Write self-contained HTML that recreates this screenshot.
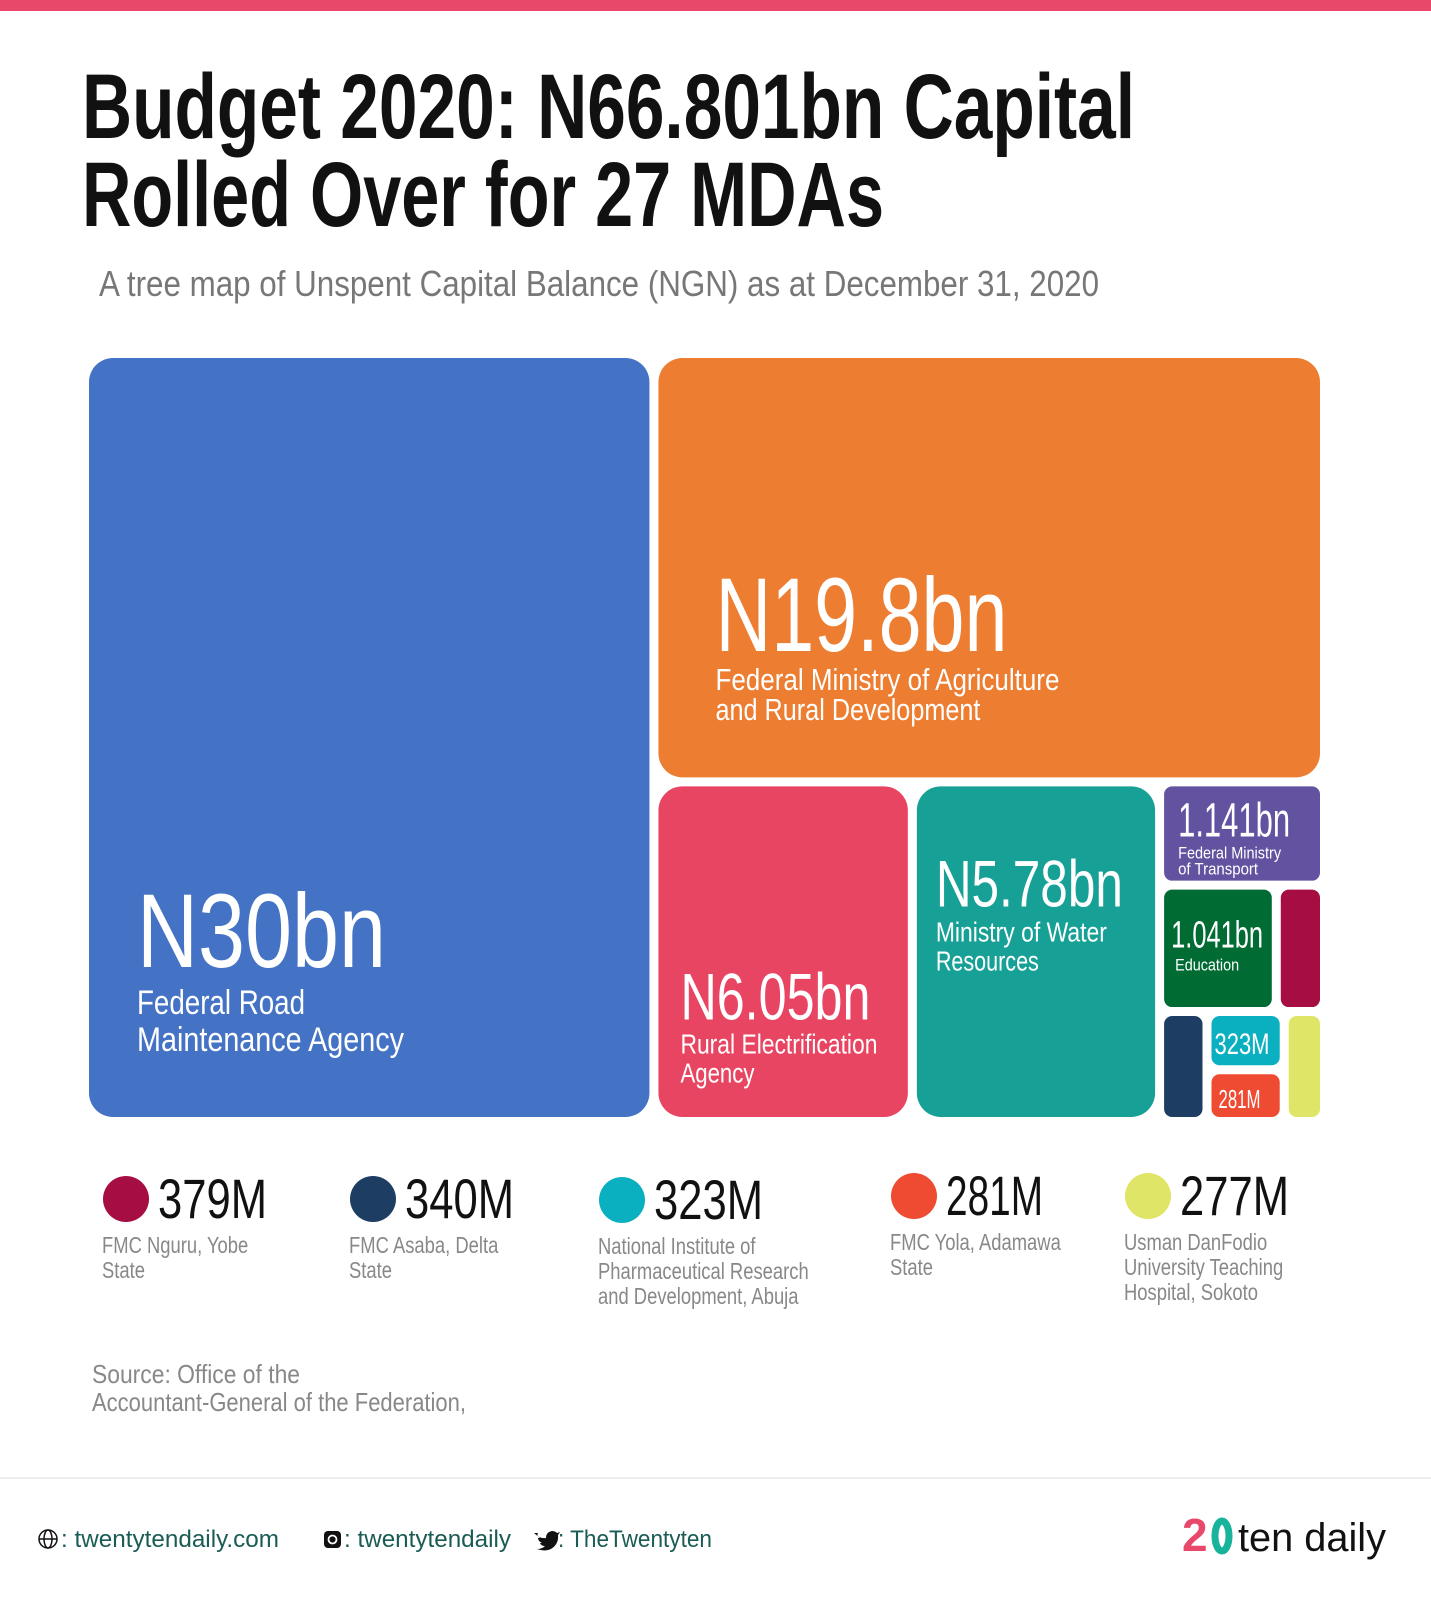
<!DOCTYPE html>
<html><head><meta charset="utf-8"><style>
html,body{margin:0;padding:0;background:#fff;}
svg{display:block;}
text{font-family:"Liberation Sans Narrow","Liberation Sans",sans-serif;}
</style></head><body>
<svg id="chart" width="1431" height="1600" viewBox="0 0 1431 1600" xmlns="http://www.w3.org/2000/svg">
<rect x="0" y="0" width="1431" height="11" fill="#e8486a"/>
<g fill="#111" font-weight="bold">
<text x="82" y="138" font-size="92" textLength="1053" lengthAdjust="spacingAndGlyphs">Budget 2020: N66.801bn Capital</text>
<text x="82" y="226" font-size="92" textLength="802" lengthAdjust="spacingAndGlyphs">Rolled Over for 27 MDAs</text>
</g>
<text x="99" y="296" font-size="36" fill="#777" textLength="1000" lengthAdjust="spacingAndGlyphs">A tree map of Unspent Capital Balance (NGN) as at December 31, 2020</text>
<g id="tm"></g>
<g id="legend"></g>
<g fill="#888" font-size="26">
<text x="92" y="1383" textLength="208" lengthAdjust="spacingAndGlyphs">Source:  Office of the</text>
<text x="92" y="1411" textLength="374" lengthAdjust="spacingAndGlyphs">Accountant-General of the Federation,</text>
</g>
<rect x="0" y="1477" width="1431" height="2" fill="#eee"/>
<g font-size="24" fill="#1a5c55">
<g stroke="#111" stroke-width="1.5" fill="none"><circle cx="48" cy="1539" r="9"/><ellipse cx="48" cy="1539" rx="4" ry="9"/><line x1="39" y1="1539" x2="57" y2="1539"/></g>
<text x="61" y="1547" textLength="218" lengthAdjust="spacingAndGlyphs">: twentytendaily.com</text>
<g><rect x="324" y="1531" width="17" height="17" rx="4" fill="#111"/><circle cx="332.5" cy="1539.5" r="4" fill="none" stroke="#fff" stroke-width="1.8"/></g>
<text x="344" y="1547" textLength="167" lengthAdjust="spacingAndGlyphs">: twentytendaily</text>
<path d="M534 1533 q6 6 12 5 q0 -6 6 -7 q3 0 5 2 l3 -1 l-2 3 q1 9 -7 14 q-6 3 -14 0 q5 0 8 -3 q-4 0 -5 -3 h2 q-4 -2 -4 -5 h2 q-4 -3 -2 -5 z" fill="#111"/>
<text x="558" y="1547" textLength="154" lengthAdjust="spacingAndGlyphs">: TheTwentyten</text>
<g>
<text x="1182" y="1551" font-size="46" font-weight="bold" fill="#e8486a" font-family="Liberation Sans, sans-serif">2</text>
<ellipse cx="1222" cy="1536" rx="7" ry="15" fill="none" stroke="#17b39a" stroke-width="7"/>
<text x="1238" y="1551" font-size="40" fill="#111" font-family="Liberation Serif, serif" textLength="148" lengthAdjust="spacingAndGlyphs">ten daily</text>
</g>
</g>
</svg>
<script>
const names = ["Federal Road Maintenance Agency","Federal Ministry of Agriculture and Rural Development","Rural Electrification Agency","Ministry of Water Resources","Federal Ministry of Transport","Education","FMC Nguru, Yobe State","FMC Asaba, Delta State","National Institute of Pharmaceutical Research and Development, Abuja","FMC Yola, Adamawa State","Usman DanFodio University Teaching Hospital, Sokoto"];
const values = [30, 19.8, 6.05, 5.78, 1.141, 1.041, 0.379, 0.340, 0.323, 0.281, 0.277];
const valueLabels = ["N30bn","N19.8bn","N6.05bn","N5.78bn","1.141bn","1.041bn","379M","340M","323M","281M","277M"];
const colors = ["#4472c4","#ed7d31","#e84562","#17a096","#6352a0","#006b33","#a50d43","#1d3e62","#0aafc0","#ef4b33","#dfe566"];
const tree = {dir:'h',kids:[0,{dir:'v',kids:[1,{dir:'h',kids:[2,3,{dir:'v',kids:[4,{dir:'h',kids:[5,6]},{dir:'h',kids:[7,{dir:'v',kids:[8,9]},10]}]}]}]}]};
const NS="http://www.w3.org/2000/svg";
const area={x:89,y:358,w:1231,h:759}, GAP=9;
const NARROW=0.8;
function sum(n){return typeof n==='number'?values[n]:n.kids.reduce((a,k)=>a+sum(k),0);}
const rects={};
function layout(n,r){
  if(typeof n==='number'){rects[n]=r;return;}
  const tot=sum(n), len=(n.dir==='h'?r.w:r.h)-GAP*(n.kids.length-1);
  let pos=n.dir==='h'?r.x:r.y;
  n.kids.forEach(k=>{
    const s=len*sum(k)/tot;
    layout(k,n.dir==='h'?{x:pos,y:r.y,w:s,h:r.h}:{x:r.x,y:pos,w:r.w,h:s});
    pos+=s+GAP;
  });
}
layout(tree,area);
const tm=document.getElementById('tm');
function txt(parent,x,y,size,str,len){
  const t=document.createElementNS(NS,'text');
  t.setAttribute('x',x);t.setAttribute('y',y);t.setAttribute('font-size',size);t.setAttribute('fill','#fff');
  t.textContent=str;parent.appendChild(t);
  const L=len||t.getComputedTextLength()*NARROW;
  t.setAttribute('textLength',L);t.setAttribute('lengthAdjust','spacingAndGlyphs');
  return t;
}
values.forEach((v,i)=>{
  const r=rects[i];
  const g=document.createElementNS(NS,'g');
  
  
  const rc=document.createElementNS(NS,'rect');
  
  
  rc.setAttribute('x',r.x);rc.setAttribute('y',r.y);rc.setAttribute('width',Math.max(r.w,1));rc.setAttribute('height',Math.max(r.h,1));
  rc.setAttribute('rx',i<4?24:8);rc.setAttribute('fill',colors[i]);
  g.appendChild(rc);tm.appendChild(g);
  const x=r.x,y=r.y;
  if(i===0){txt(g,x+48,y+609,105,valueLabels[0],249);txt(g,x+48,y+656,34,"Federal Road",168);txt(g,x+48,y+693,34,"Maintenance Agency",267);}
  if(i===1){txt(g,x+57,y+293,105,valueLabels[1],292);txt(g,x+57,y+332,31,"Federal Ministry of Agriculture",344);txt(g,x+57,y+362,31,"and Rural Development",265);}
  if(i===2){txt(g,x+22,y+233,66,valueLabels[2],190);txt(g,x+22,y+267,28,"Rural Electrification",197);txt(g,x+22,y+296,28,"Agency",74);}
  if(i===3){txt(g,x+19,y+120,66,valueLabels[3],187);txt(g,x+19,y+155,28,"Ministry of Water",171);txt(g,x+19,y+184,28,"Resources",103);}
  if(i===4){txt(g,x+14,y+50,48,valueLabels[4],112);txt(g,x+14,y+72,17,"Federal Ministry",103);txt(g,x+14,y+88,17,"of Transport",80);}
  if(i===5){txt(g,x+7,y+58,38,valueLabels[5],92);txt(g,x+11,y+81,17,"Education",64);}
  if(i===8){txt(g,x+3,y+38,30,valueLabels[8],55);}
  if(i===9){txt(g,x+7,y+34,26,valueLabels[9],42);}
});
const legendIdx=[6,7,8,9,10];
const legendX=[126,373,622,914,1148];
const legendY=[1199,1199,1200,1196,1196];
const legendDesc=[["FMC Nguru, Yobe","State"],["FMC Asaba, Delta","State"],["National Institute of","Pharmaceutical Research","and Development, Abuja"],["FMC Yola, Adamawa","State"],["Usman DanFodio","University Teaching","Hospital, Sokoto"]];
const lg=document.getElementById('legend');
legendIdx.forEach((idx,j)=>{
  const g=document.createElementNS(NS,'g');
  
  
  lg.appendChild(g);
  const cx=legendX[j],cy=legendY[j];
  const c=document.createElementNS(NS,'circle');
  c.setAttribute('cx',cx);c.setAttribute('cy',cy);c.setAttribute('r',23);c.setAttribute('fill',colors[idx]);
  g.appendChild(c);
  const t=txt(g,cx+32,cy+19,56,valueLabels[idx],idx===9?97:109);t.setAttribute('fill','#111');
  legendDesc[j].forEach((line,k)=>{
    const d=txt(g,cx-24,cy+54+k*25,23,line);d.setAttribute('fill','#888');
  });
});
</script>
</body></html>
